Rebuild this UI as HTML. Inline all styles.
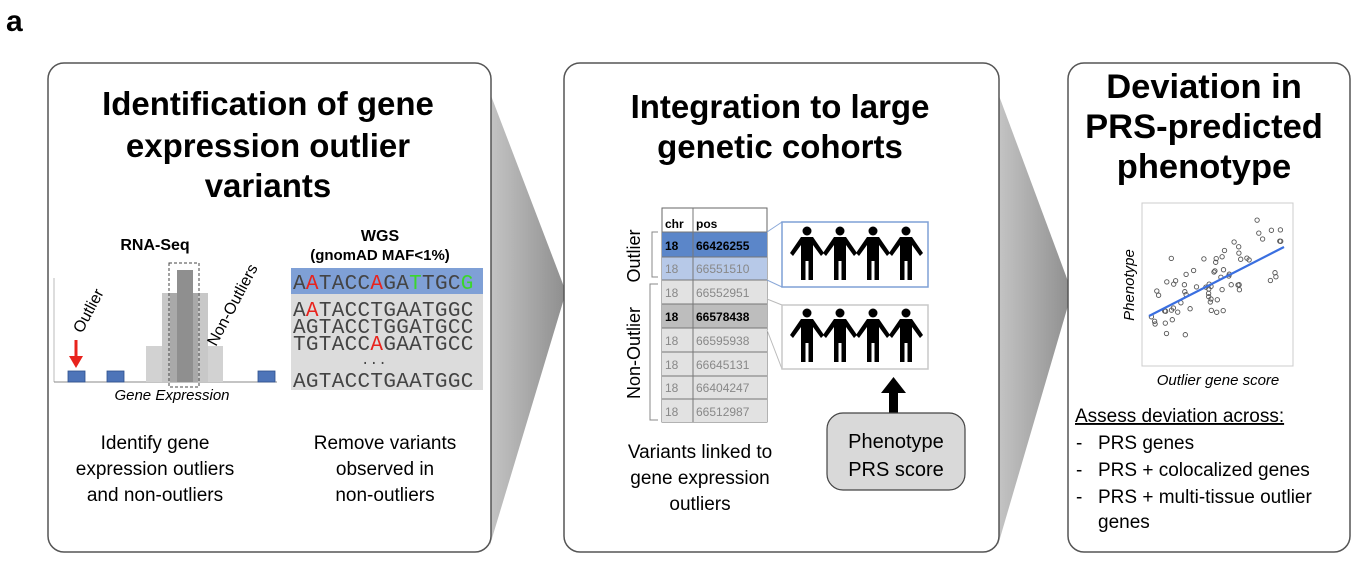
<!DOCTYPE html>
<html><head><meta charset="utf-8"><style>
html,body{margin:0;padding:0;background:#fff;}
svg{display:block;font-family:"Liberation Sans",Arial,sans-serif;}
</style></head><body>
<svg id="s" width="1360" height="563" viewBox="0 0 1360 563" xmlns="http://www.w3.org/2000/svg">
<defs>
<linearGradient id="wg" x1="0" y1="0" x2="1" y2="0">
<stop offset="0" stop-color="#c4c4c4"/><stop offset="1" stop-color="#8e8e8e"/></linearGradient>
<g id="p">
<circle cx="0" cy="-27" r="4.5" fill="#000"/>
<path d="M-6,-21 L6,-21 L17,-5 L14,-2 L6,-13 L6,22 L1.5,22 L1.5,3 L-1.5,3 L-1.5,22 L-6,22 L-6,-13 L-14,-2 L-17,-5 Z" fill="#000"/>
</g>
</defs>
<text x="6" y="31" font-size="30" font-weight="bold">a</text>

<path d="M490,93 L566,292 L490,545 Z" fill="url(#wg)"/>
<path d="M998,93 L1072,292 L998,545 Z" fill="url(#wg)"/>

<rect x="48" y="63" width="443" height="489" rx="16" fill="#fff" stroke="#555" stroke-width="1.5"/>
<rect x="564" y="63" width="435" height="489" rx="16" fill="#fff" stroke="#555" stroke-width="1.5"/>
<rect x="1068" y="63" width="282" height="489" rx="16" fill="#fff" stroke="#555" stroke-width="1.5"/>

<g font-size="33" font-weight="bold" text-anchor="middle">
<text x="268" y="115">Identification of gene</text>
<text x="268" y="157">expression outlier</text>
<text x="268" y="197">variants</text>
</g>
<text x="155" y="250" font-size="16" font-weight="bold" text-anchor="middle">RNA-Seq</text>
<text x="380" y="241" font-size="16" font-weight="bold" text-anchor="middle">WGS</text>
<text x="380" y="260" font-size="15" font-weight="bold" text-anchor="middle">(gnomAD MAF&lt;1%)</text>
<line x1="54" y1="278" x2="54" y2="382" stroke="#bbb"/>
<line x1="54" y1="382" x2="277" y2="382" stroke="#888"/>
<rect x="146" y="346" width="17" height="36" fill="#d2d2d2"/>
<rect x="162" y="293" width="16" height="89" fill="#c8c8c8"/>
<rect x="193" y="293" width="15" height="89" fill="#c8c8c8"/>
<rect x="208" y="346" width="15" height="36" fill="#d2d2d2"/>
<rect x="170" y="293" width="28" height="89" fill="#a9a9a9"/>
<rect x="177" y="270" width="16" height="112" fill="#8f8f8f"/>
<rect x="169" y="263" width="30" height="124" fill="none" stroke="#444" stroke-dasharray="3,2"/>
<rect x="68" y="371" width="17" height="11" fill="#4d74b8" stroke="#2c4f8c" stroke-width="0.8"/>
<rect x="107" y="371" width="17" height="11" fill="#4d74b8" stroke="#2c4f8c" stroke-width="0.8"/>
<rect x="258" y="371" width="17" height="11" fill="#4d74b8" stroke="#2c4f8c" stroke-width="0.8"/>
<line x1="76" y1="340" x2="76" y2="358" stroke="#e8231d" stroke-width="3"/>
<path d="M69,356 L83,356 L76,368 Z" fill="#e8231d"/>
<text transform="translate(82,334) rotate(-62)" font-size="16">Outlier</text>
<text transform="translate(216,347) rotate(-62)" font-size="16">Non-Outliers</text>
<text x="172" y="400" font-size="15" font-style="italic" text-anchor="middle">Gene Expression</text>

<rect x="291" y="268" width="192" height="26" fill="#7fa0d6"/>
<rect x="291" y="294" width="192" height="96" fill="#dcdcdc"/>
<g font-family="Liberation Mono, monospace" font-size="21" fill="#444" letter-spacing="0.3">
<text x="293" y="289">A<tspan fill="#e8231d">A</tspan>TACC<tspan fill="#e8231d">A</tspan>GA<tspan fill="#3bd62c">T</tspan>TGC<tspan fill="#3bd62c">G</tspan></text>
<text x="293" y="316">A<tspan fill="#e8231d">A</tspan>TACCTGAATGGC</text>
<text x="293" y="333">AGTACCTGGATGCC</text>
<text x="293" y="350">TGTACC<tspan fill="#e8231d">A</tspan>GAATGCC</text>
<text x="374" y="364" font-size="14" text-anchor="middle">...</text>
<text x="293" y="387">AGTACCTGAATGGC</text>
</g>
<g font-size="19" text-anchor="middle">
<text x="155" y="449">Identify gene</text>
<text x="155" y="475">expression outliers</text>
<text x="155" y="501">and non-outliers</text>
<text x="385" y="449">Remove variants</text>
<text x="385" y="475">observed in</text>
<text x="385" y="501">non-outliers</text>
</g>

<g font-size="33" font-weight="bold" text-anchor="middle">
<text x="780" y="118">Integration to large</text>
<text x="780" y="158">genetic cohorts</text>
</g>
<rect x="662" y="208" width="105" height="214" fill="#fff" stroke="#666"/>
<rect x="662" y="232" width="105" height="25" fill="#5b86c9"/>
<rect x="662" y="257" width="105" height="23" fill="#b7c9e8"/>
<rect x="662" y="280" width="105" height="142" fill="#e2e2e2"/>
<rect x="662" y="304" width="105" height="24" fill="#bdbdbd"/>
<g stroke="#777" stroke-width="1">
<line x1="693" y1="208" x2="693" y2="422"/>
<line x1="662" y1="232" x2="767" y2="232"/><line x1="662" y1="257" x2="767" y2="257"/>
<line x1="662" y1="280" x2="767" y2="280"/><line x1="662" y1="304" x2="767" y2="304"/>
<line x1="662" y1="328" x2="767" y2="328"/><line x1="662" y1="352" x2="767" y2="352"/>
<line x1="662" y1="376" x2="767" y2="376"/><line x1="662" y1="399" x2="767" y2="399"/>
</g>
<g font-size="12">
<text x="665" y="228" font-weight="bold">chr</text><text x="696" y="228" font-weight="bold">pos</text>
<text x="665" y="250" font-weight="bold">18</text><text x="696" y="250" font-weight="bold">66426255</text>
<g fill="#888">
<text x="665" y="273">18</text><text x="696" y="273">66551510</text>
<text x="665" y="297">18</text><text x="696" y="297">66552951</text>
<text x="665" y="345">18</text><text x="696" y="345">66595938</text>
<text x="665" y="369">18</text><text x="696" y="369">66645131</text>
<text x="665" y="392">18</text><text x="696" y="392">66404247</text>
<text x="665" y="416">18</text><text x="696" y="416">66512987</text>
</g>
<text x="665" y="321" font-weight="bold">18</text><text x="696" y="321" font-weight="bold">66578438</text>
</g>
<path d="M658,232 L652,232 L652,277 L658,277" fill="none" stroke="#888"/>
<path d="M658,284 L650,284 L650,420 L658,420" fill="none" stroke="#888"/>
<text transform="translate(640,256) rotate(-90)" font-size="18" text-anchor="middle">Outlier</text>
<text transform="translate(640,353) rotate(-90)" font-size="18" text-anchor="middle">Non-Outlier</text>
<line x1="767" y1="232" x2="782" y2="222" stroke="#8aa8d8"/>
<line x1="767" y1="280" x2="782" y2="287" stroke="#8aa8d8"/>
<line x1="767" y1="299" x2="782" y2="305" stroke="#bbb"/>
<line x1="767" y1="330" x2="782" y2="369" stroke="#bbb"/>
<rect x="782" y="222" width="146" height="65" fill="#fff" stroke="#7fa0d6" stroke-width="1.5"/>
<rect x="782" y="305" width="146" height="64" fill="#fff" stroke="#c8c8c8" stroke-width="1.5"/>
<use href="#p" x="807" y="258"/><use href="#p" x="840" y="258"/><use href="#p" x="873" y="258"/><use href="#p" x="906" y="258"/>
<use href="#p" x="807" y="340"/><use href="#p" x="840" y="340"/><use href="#p" x="873" y="340"/><use href="#p" x="906" y="340"/>
<rect x="889" y="392" width="9" height="22" fill="#000"/>
<path d="M881,393 L906,393 L893.5,377 Z" fill="#000"/>
<rect x="827" y="413" width="138" height="77" rx="16" fill="#d9d9d9" stroke="#444" stroke-width="1.2"/>
<g font-size="20" text-anchor="middle">
<text x="896" y="448">Phenotype</text>
<text x="896" y="476">PRS score</text>
</g>
<g font-size="19" text-anchor="middle">
<text x="700" y="458">Variants linked to</text>
<text x="700" y="484">gene expression</text>
<text x="700" y="510">outliers</text>
</g>

<g font-size="34.5" font-weight="bold" text-anchor="middle">
<text x="1204" y="98">Deviation in</text>
<text x="1204" y="138">PRS-predicted</text>
<text x="1204" y="178">phenotype</text>
</g>
<rect x="1142" y="203" width="151" height="163" fill="#fff" stroke="#ccc"/>
<g id="pts" fill="none" stroke="#555" stroke-width="0.9"></g>
<line x1="1149" y1="316" x2="1284" y2="247" stroke="#3a6fe0" stroke-width="2.2"/>
<text transform="translate(1134,285) rotate(-90)" font-size="15" font-style="italic" text-anchor="middle">Phenotype</text>
<text x="1218" y="385" font-size="15" font-style="italic" text-anchor="middle">Outlier gene score</text>
<text x="1075" y="422" font-size="19" text-decoration="underline">Assess deviation across:</text>
<g font-size="19">
<text x="1076" y="449">-</text><text x="1098" y="449">PRS genes</text>
<text x="1076" y="476">-</text><text x="1098" y="476">PRS + colocalized genes</text>
<text x="1076" y="503">-</text><text x="1098" y="503">PRS + multi-tissue outlier</text>
<text x="1098" y="528">genes</text>
</g>
</svg>
<script>
var g=document.getElementById('pts'),seed=7;
function r(){seed=(seed*9301+49297)%233280;return seed/233280;}
for(var i=0;i<70;i++){var x=1148+r()*138;var y=316-(x-1149)*0.51+(r()+r()+r()-1.5)*34;
if(y<212)y=212;if(y>356)y=356;
var c=document.createElementNS('http://www.w3.org/2000/svg','circle');c.setAttribute('cx',x.toFixed(1));c.setAttribute('cy',y.toFixed(1));c.setAttribute('r','2.2');g.appendChild(c);}
</script>
</body></html>
